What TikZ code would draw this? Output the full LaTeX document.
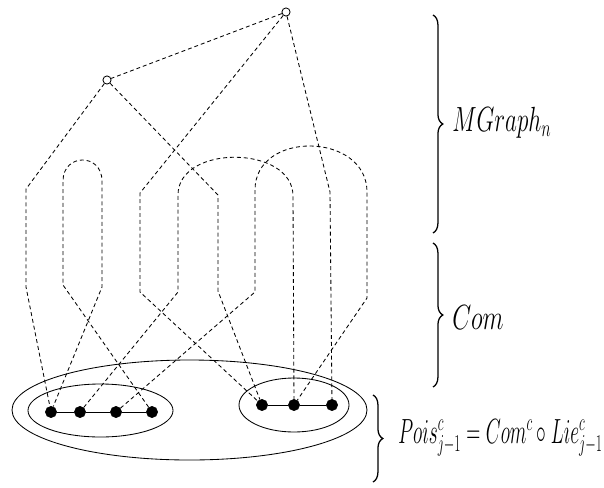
\documentclass[tikz,border=0pt]{standalone}
\usepackage{amsmath}
\usepackage{amssymb}
\usepackage{tikz}
\usetikzlibrary{decorations.pathreplacing}

\begin{document}
\begin{tikzpicture}[x=0.025cm,y=-0.025cm]
  \tikzset{vertex/.style = {shape=circle,draw,fill=white,minimum size=5.8pt,inner sep=0pt,line width=0.6pt}}
  \tikzset{dot/.style = {shape=circle,draw,fill=black,minimum size=8pt,inner sep=0pt}}
  \tikzset{strand/.style = {dash pattern=on 2.8pt off 2.1pt,line width=0.6pt}}
  \tikzset{bracket/.style = {decorate,decoration={brace,amplitude=7pt},line width=0.9pt}}
  \tikzset{lbl/.style = {anchor=west,inner sep=0pt,font=\fontsize{23}{27}\selectfont}}

  \useasboundingbox (0,0) rectangle (604,487);

  % groups
  \draw[line width=0.6pt] (189.5,410) ellipse [x radius=177.5, y radius=50];
  \draw[line width=0.6pt] (100.5,410.5) ellipse [x radius=72.5, y radius=26.5];
  \draw[line width=0.6pt] (294,405) ellipse [x radius=55, y radius=27];

	\node[vertex] (T) at (286,12) {};
	\node[vertex] (L) at (107,80) {};

	\foreach \n/\x in {l1/51, l2/80, l3/116, l4/152}
	  \node[dot] (\n) at (\x,412) {};
	\foreach \n/\x in {r1/262, r2/294, r3/332}
	  \node[dot] (\n) at (\x,405) {};

	\foreach \from/\to in {l1/l2, l2/l3, l3/l4, r1/r2, r2/r3}
	  \draw[line width=0.6pt] (\from) -- (\to);

	% columns
	\foreach \k/\x/\u/\d in {1/26/189/287, 2/63/181/285, 3/102/181/287, 4/140/193/292, 5/178/195/292,
	                         6/218/195/291, 7/255/190/292, 8/293/196/300, 9/330/192/300, 10/367/192/298} {
	  \coordinate (u\k) at (\x,\u);
	  \coordinate (d\k) at (\x,\d);
	}

	\draw[strand] (T) -- (L);
	\draw[strand] (L) -- (u1) -- (d1) -- (l1);
	\draw[strand] (L) -- (u6) -- (d6) -- (r1);
	\draw[strand] (T) -- (u4) -- (d4) -- (r1);
	\draw[strand] (T) -- (u9) -- (r3);
	\draw[strand] (l4) -- (d2) -- (u2) .. controls +(0,-28) and +(0,-28) .. (u3) -- (d3) -- (l1);
	\draw[strand] (l2) -- (d5) -- (u5) .. controls +(0,-51) and +(0,-51) .. (u8) -- (r2);
	\draw[strand] (l3) -- (d7) -- (u7) .. controls +(0,-60) and +(0,-60) .. (u10) -- (d10) -- (r2);

	% braces
	\coordinate (b1s) at (433,15);
	\coordinate (b1e) at (433,233);
	\coordinate (b2s) at (433,243);
	\coordinate (b2e) at (433,387);
	\coordinate (b3s) at (373,395);
	\coordinate (b3e) at (373,482);
	\draw[bracket] (b1s) -- (b1e);
	\draw[bracket] (b2s) -- (b2e);
	\draw[bracket] (b3s) -- (b3e);

	\node[lbl] (mgraph) at (452,123) {\scalebox{0.66}[1]{$MGraph_n$}};
	\node[lbl] (com) at (452,318) {\scalebox{0.7}[1]{$Com$}};
	\node[lbl] (pois) at (398,438) {\scalebox{0.555}[1]{$Pois^c_{j-1} = Com^c \circ Lie^c_{j-1}$}};
\end{tikzpicture}
\end{document}
